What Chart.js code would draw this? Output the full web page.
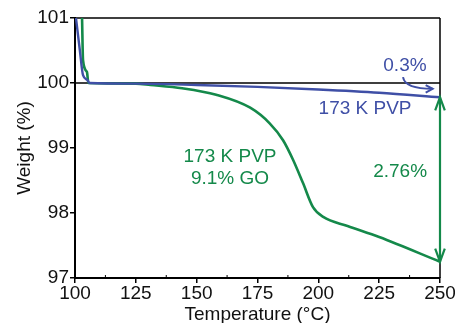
<!DOCTYPE html>
<html>
<head>
<meta charset="utf-8">
<script src="https://cdn.jsdelivr.net/npm/chart.js@4/dist/chart.umd.min.js"></script>
<style>
  html, body { margin: 0; padding: 0; background: #fff; }
  #wrap { width: 455px; height: 323px; }
</style>
</head>
<body>
<div id="wrap"><canvas id="tga"></canvas></div>
<script>
// ===== data =====
const xTicks = [100, 125, 150, 175, 200, 225, 250];
const yTicks = [97, 98, 99, 100, 101];

const pvpTemp   = [100.4, 102, 103.3, 105, 106, 125, 150, 175, 200, 225, 250];
const pvpWeight = [101, 100.5, 100.12, 100.05, 100.0, 99.99, 99.97, 99.94, 99.9, 99.85, 99.78];

const goTemp   = [102.9, 103.3, 104.9, 105.5, 125, 131, 144, 158, 172, 180, 185.5, 189.6, 193.7, 197.8, 202, 212, 225, 250];
const goWeight = [101, 100.35, 100.17, 100.0, 99.99, 99.97, 99.92, 99.82, 99.62, 99.38, 99.12, 98.82, 98.46, 98.09, 97.94, 97.8, 97.63, 97.25];

const BLUE = "#3f4fa6";
const GREEN = "#14894a";
const FONT = "'Liberation Sans', Arial, sans-serif";
const FS = 19;

// labels placed in data coordinates
const notes = [
    { text: "0.3%", x: 235.6, y: 100.27, color: BLUE },
    { text: "173 K PVP", x: 219.2, y: 99.61, color: BLUE },
    { text: "173 K PVP", x: 163.7, y: 98.86, color: GREEN },
    { text: "9.1% GO", x: 163.7, y: 98.52, color: GREEN },
    { text: "2.76%", x: 233.6, y: 98.63, color: GREEN }
];

function toPoints(xs, ys) {
    return xs.map((x, i) => ({ x: x, y: ys[i] }));
}

function arrowHead(ctx, x, y, angle, len, spread) {
    ctx.beginPath();
    ctx.moveTo(x - len * Math.cos(angle - spread), y - len * Math.sin(angle - spread));
    ctx.lineTo(x, y);
    ctx.lineTo(x - len * Math.cos(angle + spread), y - len * Math.sin(angle + spread));
    ctx.stroke();
}

const framePlugin = {
    id: "frame",
    beforeDatasetsDraw(chart) {
        const { ctx, chartArea: a, scales } = chart;
        ctx.save();
        ctx.strokeStyle = "#000";
        ctx.lineWidth = 1.5;
        ctx.beginPath();
        ctx.moveTo(a.left, a.top); ctx.lineTo(a.right, a.top);
        ctx.moveTo(a.right, a.top); ctx.lineTo(a.right, a.bottom);
        const y100 = scales.y.getPixelForValue(100);
        ctx.moveTo(a.left, y100); ctx.lineTo(a.right, y100);
        ctx.stroke();
        // minor ticks on the x axis
        ctx.lineWidth = 1;
        ctx.beginPath();
        for (let t = 112.5; t < 250; t += 25) {
            const px = scales.x.getPixelForValue(t);
            ctx.moveTo(px, a.bottom); ctx.lineTo(px, a.bottom - 3);
        }
        ctx.stroke();
        ctx.restore();
    },
    afterDatasetsDraw(chart) {
        const { ctx, scales } = chart;
        const sx = scales.x, sy = scales.y;
        ctx.save();
        ctx.font = FS + "px " + FONT;
        ctx.textAlign = "center";
        ctx.textBaseline = "middle";
        notes.forEach(n => {
            ctx.fillStyle = n.color;
            ctx.fillText(n.text, sx.getPixelForValue(n.x), sy.getPixelForValue(n.y));
        });

        // curved blue arrow under "0.3%"
        ctx.strokeStyle = BLUE;
        ctx.lineWidth = 2;
        const x0 = sx.getPixelForValue(234.8), y0 = sy.getPixelForValue(100.09);
        const x1 = sx.getPixelForValue(247), y1 = sy.getPixelForValue(99.91);
        ctx.beginPath();
        ctx.moveTo(x0, y0);
        ctx.quadraticCurveTo(x0 + 2, y1, x1, y1);
        ctx.stroke();
        arrowHead(ctx, x1, y1, 0, 8, 0.5);

        // green double arrow spanning the mass loss
        const lastT = pvpTemp[pvpTemp.length - 1];
        const ax = sx.getPixelForValue(lastT);
        const top = sy.getPixelForValue(pvpWeight[pvpWeight.length - 1]);
        const bot = sy.getPixelForValue(goWeight[goWeight.length - 1]);
        ctx.strokeStyle = GREEN;
        ctx.lineWidth = 2.2;
        ctx.beginPath();
        ctx.moveTo(ax, top); ctx.lineTo(ax, bot);
        ctx.stroke();
        arrowHead(ctx, ax, top, -Math.PI / 2, 14, 0.35);
        arrowHead(ctx, ax, bot, Math.PI / 2, 14, 0.35);
        ctx.restore();
    }
};

new Chart(document.getElementById("tga"), {
    type: "line",
    data: {
        datasets: [
            {
                label: "173 K PVP",
                data: toPoints(pvpTemp, pvpWeight),
                borderColor: BLUE,
                borderWidth: 2.4,
                pointRadius: 0,
                cubicInterpolationMode: "monotone",
                fill: false
            },
            {
                label: "173 K PVP 9.1% GO",
                data: toPoints(goTemp, goWeight),
                borderColor: GREEN,
                borderWidth: 2.6,
                pointRadius: 0,
                cubicInterpolationMode: "monotone",
                fill: false
            }
        ]
    },
    options: {
        responsive: true,
        maintainAspectRatio: false,
        animation: false,
        layout: { padding: { top: 18, right: 15, left: 0, bottom: 0 } },
        plugins: {
            legend: { display: false },
            tooltip: { enabled: false }
        },
        scales: {
            x: {
                type: "linear",
                min: 100,
                max: 250,
                afterBuildTicks: s => { s.ticks = xTicks.map(v => ({ value: v })); },
                afterFit: s => { s.height = 45; s.paddingRight = 0; s.paddingLeft = 0; },
                ticks: { color: "#111", font: { family: FONT, size: FS, lineHeight: 1.0 }, padding: 1, maxRotation: 0 },
                grid: { drawOnChartArea: false, color: "#000", lineWidth: 1.5, tickLength: 5 },
                border: { color: "#000", width: 2 },
                title: {
                    display: true,
                    text: "Temperature (°C)",
                    color: "#111",
                    font: { family: FONT, size: FS, lineHeight: 1.0 },
                    padding: { top: 0, bottom: -1 }
                }
            },
            y: {
                min: 97,
                max: 101,
                afterBuildTicks: s => { s.ticks = yTicks.map(v => ({ value: v })); },
                afterFit: s => { s.width = 75; },
                ticks: { color: "#111", font: { family: FONT, size: FS }, padding: 1 },
                grid: { drawOnChartArea: false, color: "#000", lineWidth: 1.5, tickLength: 5 },
                border: { color: "#000", width: 2 },
                title: {
                    display: true,
                    text: "Weight (%)",
                    color: "#111",
                    font: { family: FONT, size: FS, lineHeight: 1.0 },
                    padding: { top: 15, bottom: 0 }
                }
            }
        }
    },
    plugins: [framePlugin]
});
</script>
</body>
</html>
